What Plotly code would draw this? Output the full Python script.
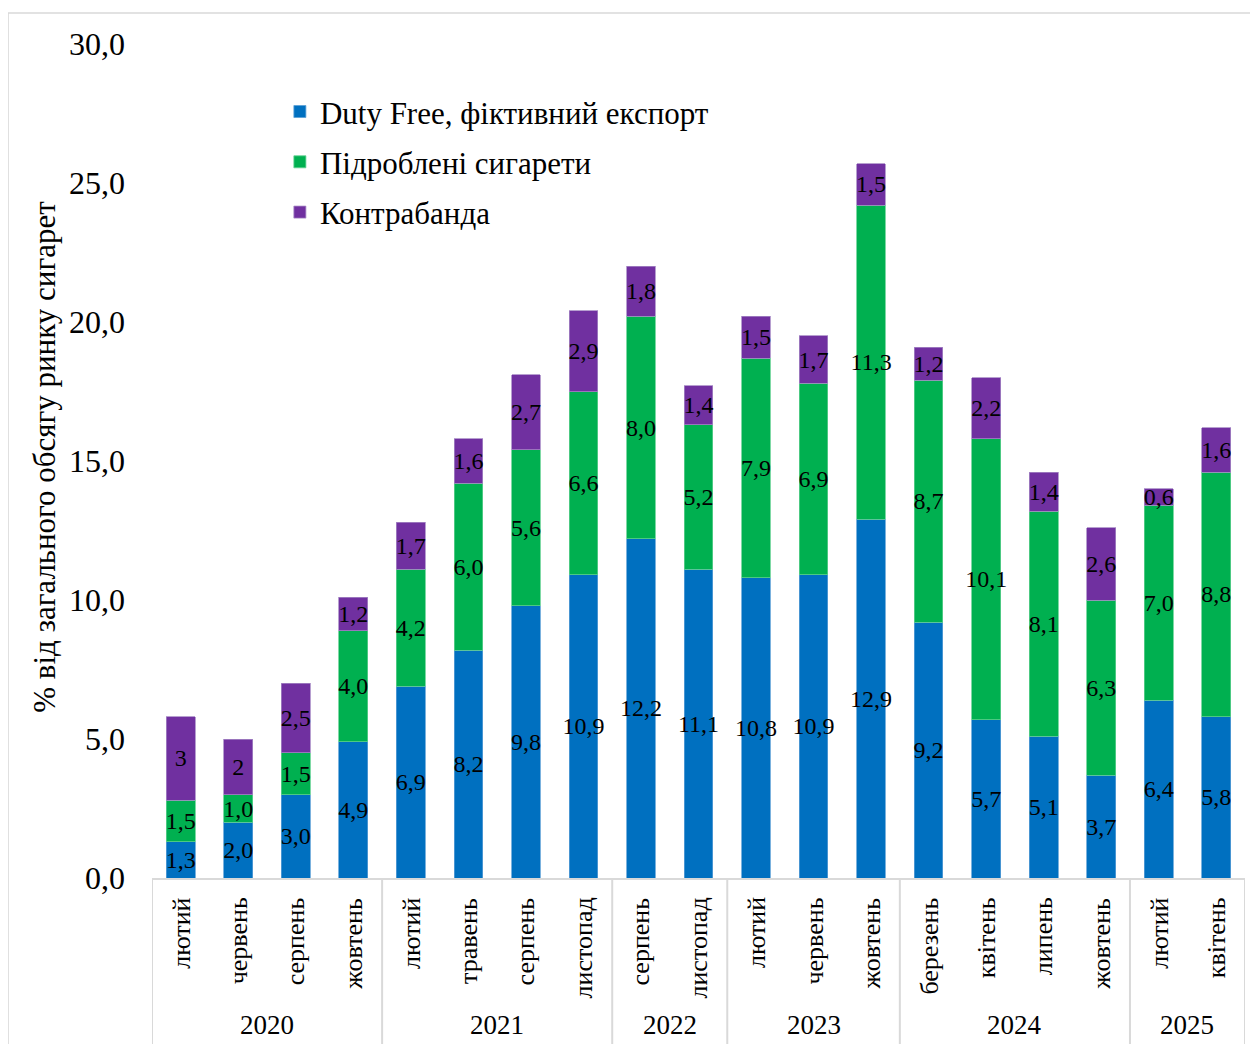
import plotly.graph_objects as go

years = ["2020"] * 4 + ["2021"] * 4 + ["2022"] * 2 + ["2023"] * 3 + ["2024"] * 4 + ["2025"] * 2
months = ["лютий", "червень", "серпень", "жовтень",
          "лютий", "травень", "серпень", "листопад",
          "серпень", "листопад",
          "лютий", "червень", "жовтень",
          "березень", "квітень", "липень", "жовтень",
          "лютий", "квітень"]

duty_free = [1.3, 2.0, 3.0, 4.9, 6.9, 8.2, 9.8, 10.9, 12.2, 11.1, 10.8, 10.9, 12.9, 9.2, 5.7, 5.1, 3.7, 6.4, 5.8]
counterfeit = [1.5, 1.0, 1.5, 4.0, 4.2, 6.0, 5.6, 6.6, 8.0, 5.2, 7.9, 6.9, 11.3, 8.7, 10.1, 8.1, 6.3, 7.0, 8.8]
contraband = [3, 2, 2.5, 1.2, 1.7, 1.6, 2.7, 2.9, 1.8, 1.4, 1.5, 1.7, 1.5, 1.2, 2.2, 1.4, 2.6, 0.6, 1.6]
contraband_labels = ["3", "2", "2,5", "1,2", "1,7", "1,6", "2,7", "2,9", "1,8", "1,4",
                     "1,5", "1,7", "1,5", "1,2", "2,2", "1,4", "2,6", "0,6", "1,6"]

series_names = ["Duty Free, фіктивний експорт", "Підроблені сигарети", "Контрабанда"]
colors = ["#0070C0", "#00B050", "#7030A0"]
outline_colors = ["#5a9fd6", "#5fd08f", "#a587c4"]

FONT = "Liberation Serif"


def fmt(v):
    return f"{v:.1f}".replace(".", ",")


x = list(range(len(months)))
fig = go.Figure()
series = [
    (duty_free, [fmt(v) for v in duty_free]),
    (counterfeit, [fmt(v) for v in counterfeit]),
    (contraband, contraband_labels),
]
for i, ((vals, labels), name, col, oc) in enumerate(zip(series, series_names, colors, outline_colors)):
    fig.add_trace(go.Bar(
        x=x, y=vals, name=name, text=labels,
        marker=dict(color=col, line=dict(width=0.8, color=oc)),
        textposition="inside", insidetextanchor="middle", textangle=0,
        constraintext="none",
        insidetextfont=dict(family=FONT, size=24, color="black"),
        legendgroup=f"g{i}",
        hoverinfo="skip",
    ))

shapes = []
annotations = []

# month labels
for i, m in enumerate(months):
    annotations.append(dict(
        x=i, xref="x", y=-0.021, yref="paper", text=m, showarrow=False,
        textangle=-90, xanchor="center", yanchor="top",
        font=dict(family=FONT, size=26, color="black"),
    ))

# year groups: labels and separators
groups = []
for i, yv in enumerate(years):
    if not groups or groups[-1][0] != yv:
        groups.append([yv, i, i])
    else:
        groups[-1][2] = i
for yv, s, e in groups:
    annotations.append(dict(
        x=(s + e) / 2, xref="x", y=-0.176, yref="paper", text=yv, showarrow=False,
        xanchor="center", yanchor="middle",
        font=dict(family=FONT, size=27, color="black"),
    ))
bounds = [g[1] - 0.5 for g in groups] + [groups[-1][2] + 0.5]
for b in bounds:
    shapes.append(dict(type="line", xref="x", yref="paper", x0=b, x1=b, y0=0, y1=-0.25,
                       line=dict(color="#d9d9d9", width=2)))

# outer frame
shapes.append(dict(type="rect", xref="paper", yref="paper",
                   x0=-0.1317, x1=1.0091, y0=-0.25, y1=1.0372,
                   line=dict(color="#d9d9d9", width=1.5), layer="below"))

# y-axis title
annotations.append(dict(
    x=-0.098, xref="paper", y=0.505, yref="paper", text="% від загального обсягу ринку сигарет",
    showarrow=False, textangle=-90, xanchor="center", yanchor="middle",
    font=dict(family=FONT, size=31, color="black"),
))

fig.update_layout(
    width=1250, height=1036,
    margin=dict(l=144, r=13, t=36, b=166),
    paper_bgcolor="white", plot_bgcolor="white",
    barmode="stack", bargap=0.5,
    separators=", ",
    font=dict(family=FONT, color="black"),
    showlegend=True,
    legend=dict(x=0.117, y=0.951, xanchor="left", yanchor="top",
                font=dict(family=FONT, size=31, color="black"),
                traceorder="grouped", tracegroupgap=7,
                bgcolor="rgba(0,0,0,0)"),
    xaxis=dict(range=[-0.5, len(months) - 0.5], showticklabels=False, ticks="",
               showgrid=False, zeroline=False, showline=True, linecolor="#d9d9d9", linewidth=2,
               fixedrange=True),
    yaxis=dict(range=[0, 30], dtick=5, tickformat=".1f", showgrid=False, zeroline=False,
               showline=False, ticks="", ticklabelstandoff=26,
               tickfont=dict(family=FONT, size=32, color="black"), fixedrange=True),
    shapes=shapes, annotations=annotations,
)

fig.write_html("out.html")
